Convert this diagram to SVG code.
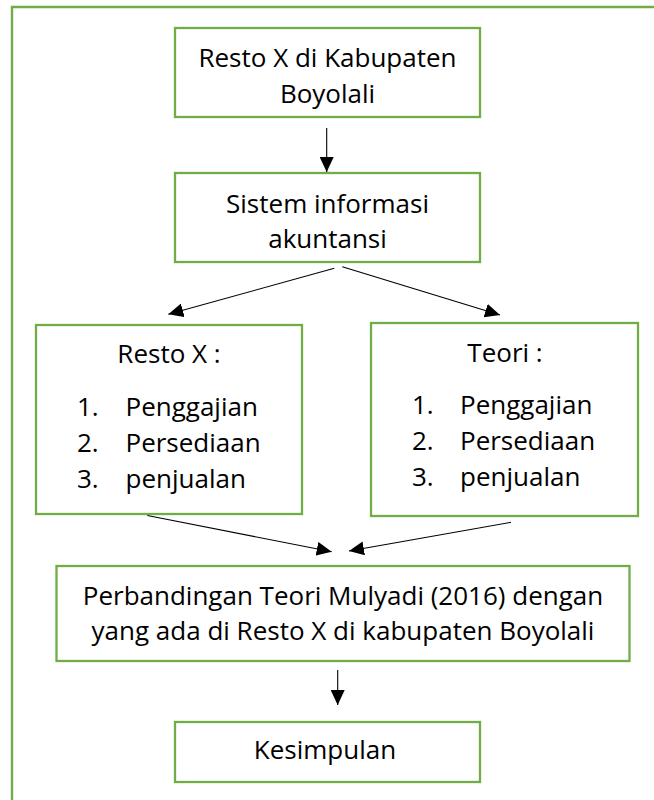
<svg xmlns="http://www.w3.org/2000/svg" width="654" height="800" viewBox="0 0 654 800">
  <style>
    .frame { fill: none; stroke: #70AD47; stroke-width: 2.4; }
    .box { fill: #ffffff; stroke: #70AD47; stroke-width: 2.3; }
    .label { font-family: "Open Sans", "Noto Sans", sans-serif; font-size: 26px; fill: #000000; }
    .mid { text-anchor: middle; }
    .conn { stroke: #000000; stroke-width: 1.1; fill: none; marker-end: url(#head); }
  </style>
  <defs>
    <marker id="head" viewBox="0 0 15 14" refX="15" refY="7" markerWidth="15" markerHeight="14" markerUnits="userSpaceOnUse" orient="auto">
      <path d="M0,0 L15,7 L0,14 Z" fill="#000000"/>
    </marker>
  </defs>

  <rect width="654" height="800" fill="#ffffff"/>

  <!-- outer page border (open to the right and bottom) -->
  <path class="frame" d="M12,800 V7 H654"/>

  <g id="resto-kabupaten">
    <rect class="box" x="175" y="28" width="305" height="89"/>
    <text class="label mid" x="327.5" y="67">Resto X di Kabupaten</text>
    <text class="label mid" x="327.5" y="102.5">Boyolali</text>
  </g>

  <g id="sistem-informasi">
    <rect class="box" x="175" y="173" width="305" height="89"/>
    <text class="label mid" x="327.5" y="212.5">Sistem informasi</text>
    <text class="label mid" x="327.5" y="248">akuntansi</text>
  </g>

  <g id="resto-x">
    <rect class="box" x="36" y="325" width="266" height="189"/>
    <text class="label mid" x="169" y="363">Resto X :</text>
    <text class="label" x="77" y="416">1.</text>
    <text class="label" x="125.5" y="416">Penggajian</text>
    <text class="label" x="77" y="452">2.</text>
    <text class="label" x="125.5" y="452">Persediaan</text>
    <text class="label" x="77" y="487.5">3.</text>
    <text class="label" x="125.5" y="487.5">penjualan</text>
  </g>

  <g id="teori">
    <rect class="box" x="371" y="323" width="267" height="193"/>
    <text class="label mid" x="505" y="362">Teori :</text>
    <text class="label" x="412" y="414">1.</text>
    <text class="label" x="460" y="414">Penggajian</text>
    <text class="label" x="412" y="450">2.</text>
    <text class="label" x="460" y="450">Persediaan</text>
    <text class="label" x="412" y="486">3.</text>
    <text class="label" x="460" y="486">penjualan</text>
  </g>

  <g id="perbandingan">
    <rect class="box" x="56.5" y="566" width="573" height="95"/>
    <text class="label mid" x="343" y="605">Perbandingan Teori Mulyadi (2016) dengan</text>
    <text class="label mid" x="343" y="640">yang ada di Resto X di kabupaten Boyolali</text>
  </g>

  <g id="kesimpulan">
    <rect class="box" x="175" y="722" width="305" height="60"/>
    <text class="label mid" x="325" y="758.5">Kesimpulan</text>
  </g>

  <g id="connectors">
    <line class="conn" x1="326.7" y1="128" x2="326.7" y2="172"/>
    <line class="conn" x1="334.3" y1="268.3" x2="168.3" y2="314.3"/>
    <line class="conn" x1="342.3" y1="266.7" x2="500" y2="315"/>
    <line class="conn" x1="147.3" y1="515.5" x2="331.7" y2="551.7"/>
    <line class="conn" x1="511" y1="522.3" x2="349" y2="551"/>
    <line class="conn" x1="337.7" y1="670" x2="337.7" y2="705"/>
  </g>
</svg>
